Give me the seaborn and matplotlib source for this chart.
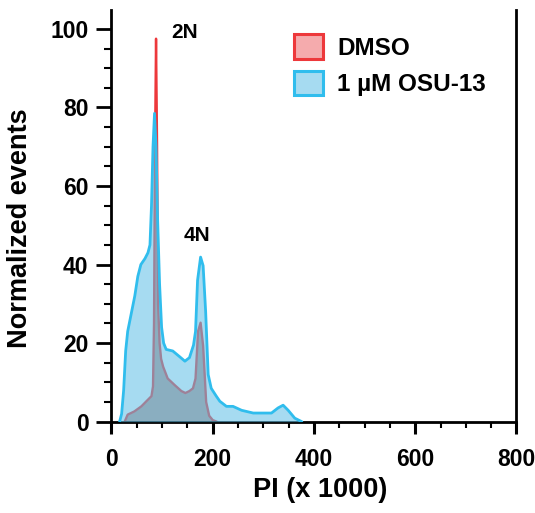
import numpy as np
import pandas as pd
import matplotlib
matplotlib.use("Agg")
import matplotlib.pyplot as plt
from matplotlib.patches import Patch
from matplotlib.ticker import MultipleLocator
import seaborn as sns

# PI signal (x 1000) and normalized events
dmso_x = [26, 32, 45, 59, 72, 79, 82, 84, 86, 88, 90, 92, 95, 98, 102, 111, 125,
          138, 146, 154, 161, 166, 171, 176, 181, 187, 193, 200, 208]
dmso_y = [0, 1.8, 2.6, 3.9, 5.6, 6.5, 9, 25, 70, 97.5, 70, 30, 20, 16, 14, 11, 9.3,
          7.8, 7.3, 7.8, 8.5, 11, 23, 25.2, 19.3, 5, 1.5, 0.4, 0]

osu_x = [16, 20, 24, 28, 32, 39, 46, 52, 58, 66, 72, 76, 79, 82, 85, 88, 91, 95,
         99, 103, 108, 121, 135, 145, 154, 162, 166, 170, 176, 181, 186, 191, 197,
         207, 214, 227, 240, 257, 280, 316, 329, 339, 349, 362, 376]
osu_y = [0, 2, 8, 18, 23, 27.5, 32, 37, 40, 41.5, 43, 45, 55, 70, 78.5, 70, 52, 35,
         24, 20, 18.4, 18, 16.5, 15.4, 16.3, 19.5, 23, 36, 41.9, 39.7, 28, 12, 8.5,
         6.5, 5.2, 3.9, 3.9, 2.9, 2.2, 2.2, 3.5, 4.2, 2.9, 0.9, 0]

labels = ["DMSO", "1 µM OSU-13"]
x_ticks = [0, 200, 400, 600, 800]
y_ticks = [0, 20, 40, 60, 80, 100]

red = (0.93, 0.22, 0.23)
pink = (0.96, 0.67, 0.68)
blue = (0.19, 0.74, 0.93)
light_blue = (0.65, 0.86, 0.945)

sns.set_style("ticks")
plt.rcParams['font.family'] = ['Liberation Sans', 'DejaVu Sans']
plt.rcParams['font.weight'] = 'bold'
plt.rcParams['text.color'] = 'black'
plt.rcParams['axes.labelcolor'] = 'black'
plt.rcParams['xtick.color'] = 'black'
plt.rcParams['ytick.color'] = 'black'

dmso = pd.DataFrame({"PI": dmso_x, "events": dmso_y})
osu = pd.DataFrame({"PI": osu_x, "events": osu_y})

fig = plt.figure(figsize=(5.35, 5.13), dpi=100)
ax = fig.add_axes([0.2084, 0.178, 0.7570, 0.8025])

# DMSO underneath, OSU-13 translucent on top
ax.fill_between(dmso["PI"], dmso["events"], color=(0.757, 0.608, 0.576), lw=0, zorder=1)
sns.lineplot(data=dmso, x="PI", y="events", color=red, lw=1.7, estimator=None,
             ax=ax, zorder=2)
ax.fill_between(osu["PI"], osu["events"], color=(0.365, 0.75, 0.9), alpha=0.55,
                lw=0, zorder=3)
sns.lineplot(data=osu, x="PI", y="events", color=blue, lw=2.0, estimator=None,
             ax=ax, zorder=4)

ax.set_xlim(0, 800)
ax.set_ylim(0, 104.8)
ax.set_xticks(x_ticks)
ax.set_yticks(y_ticks)
ax.xaxis.set_minor_locator(MultipleLocator(50))
ax.yaxis.set_minor_locator(MultipleLocator(5))

ax.spines["top"].set_visible(False)
for s in ["left", "bottom", "right"]:
    ax.spines[s].set_linewidth(2.0)
    ax.spines[s].set_color("black")

ax.tick_params(axis="y", which="major", length=10.8, width=2.0, pad=5.8,
               labelsize=16.5, direction="out")
ax.tick_params(axis="y", which="minor", length=5, width=1.5, direction="out")
ax.tick_params(axis="x", which="major", length=8.3, width=2.2, pad=10.5,
               labelsize=16.5, direction="out")
ax.tick_params(axis="x", which="minor", length=4.3, width=1.5, direction="out")
for t in ax.get_xticklabels() + ax.get_yticklabels():
    t.set_fontweight("bold")

ax.set_xlabel("PI (x 1000)", fontsize=19.5, fontweight="bold")
ax.set_ylabel("Normalized events", fontsize=19.5, fontweight="bold")
ax.xaxis.set_label_coords(0.516, -0.165)
ax.xaxis.label.set_va("center")
ax.yaxis.set_label_coords(-0.225, 0.47)
ax.yaxis.label.set_va("center")

ax.text(144, 99, "2N", fontsize=15, fontweight="bold", ha="center", va="center")
ax.text(168, 47.5, "4N", fontsize=15, fontweight="bold", ha="center", va="center")

handles = [Patch(facecolor=pink, edgecolor=red, lw=2.2),
           Patch(facecolor=light_blue, edgecolor=blue, lw=2.2)]
ax.legend(handles, labels, loc="upper left", bbox_to_anchor=(0.4506, 0.9417),
          frameon=False, borderpad=0, borderaxespad=0, handlelength=1.19,
          handleheight=1.19, handletextpad=0.58, labelspacing=0.45,
          prop={"size": 17.5, "weight": "bold"})

fig.savefig("out.png", dpi=100)
